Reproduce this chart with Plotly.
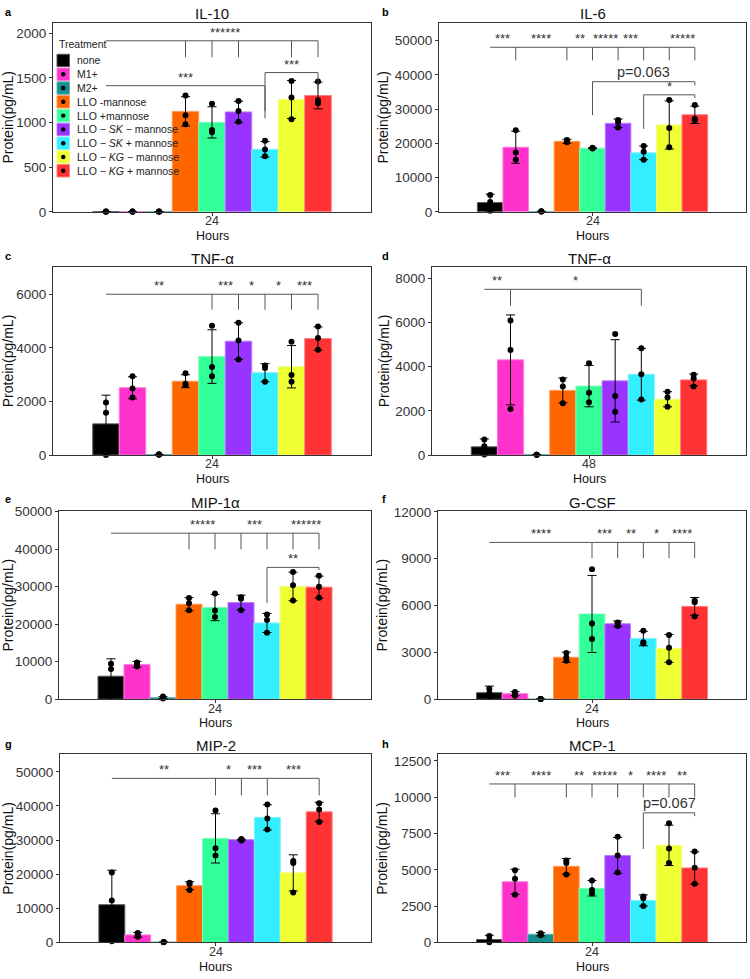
import plotly.graph_objects as go

W, H = 750, 979
FONT = "Liberation Sans, Arial, Helvetica, sans-serif"

# ---------------- data ----------------
treatments = ["none", "M1+", "M2+", "LLO -mannose", "LLO +mannose",
              "LLO − <i>SK</i> − mannose", "LLO − <i>SK</i> + mannose",
              "LLO − <i>KG</i> − mannose", "LLO − <i>KG</i> + mannose"]
colors = ["#000000", "#FF33CC", "#129090", "#FF6600", "#33FF99",
          "#9933FF", "#33EEFF", "#EEFF33", "#FF3333"]

panel_titles = ["IL-10", "IL-6", "TNF-α", "TNF-α", "MIP-1α", "G-CSF", "MIP-2", "MCP-1"]
panel_letters = ["a", "b", "c", "d", "e", "f", "g", "h"]
time_labels = ["24", "24", "24", "48", "24", "24", "24", "24"]

il10_mean = [3, 3, 3, 1125, 1002, 1119, 700, 1259, 1303]
il10_sd = [0, 0, 0, 165, 175, 119, 87, 213, 150]
il10_pts = [[2, 4, 3], [2, 4, 3], [3, 2, 4], [1303, 1083, 980], [1211, 917, 892],
            [1240, 1130, 1009], [796, 697, 623], [1465, 1281, 1038], [1460, 1251, 1215]]

il6_mean = [2700, 18870, 100, 20595, 18583, 25863, 17242, 25384, 28354]
il6_sd = [2450, 4700, 50, 600, 150, 1250, 2000, 7040, 2540]
il6_pts = [[4900, 2900, 300], [23852, 17338, 15231], [150, 80, 60], [21000, 20500, 20300],
           [18700, 18550, 18500], [26821, 26247, 24618], [19254, 17530, 15231],
           [32665, 24523, 18870], [31227, 27204, 26725]]

tnf24_mean = [1163, 2510, 20, 2755, 3674, 4249, 3073, 3294, 4347]
tnf24_sd = [1070, 410, 5, 240, 1000, 686, 337, 790, 435]
tnf24_pts = [[1960, 1580, 0], [2939, 2486, 2143], [20, 25, 15], [3049, 2657, 2600],
             [4825, 3282, 2939], [4935, 4274, 3563], [3343, 3245, 2731],
             [4224, 2988, 2731], [4800, 4371, 3931]]

tnf48_mean = [372, 4312, 10, 2929, 3123, 3361, 3658, 2528, 3405]
tnf48_sd = [357, 2037, 3, 565, 937, 1866, 1172, 342, 267]
tnf48_pts = [[699, 400, 20], [6097, 4758, 2082], [10, 10, 10], [3420, 3108, 2349],
             [4164, 2825, 2394], [5487, 2677, 1963], [4833, 3658, 2513],
             [2870, 2602, 2186], [3643, 3465, 3108]]

mip1a_mean = [6130, 9282, 438, 25308, 24432, 25745, 20316, 30036, 29861]
mip1a_sd = [4640, 790, 250, 1750, 3500, 1970, 2540, 3810, 2930]
mip1a_pts = [[9458, 8056, 876], [9800, 9300, 8750], [700, 400, 200], [26972, 25570, 23731],
             [28197, 23644, 21893], [27147, 26797, 23731], [22593, 21105, 17689],
             [33889, 30387, 26271], [32926, 29949, 27059]]

gcsf_mean = [420, 357, 10, 2690, 5464, 4834, 3888, 3257, 5948]
gcsf_sd = [420, 126, 3, 326, 2470, 178, 462, 893, 567]
gcsf_pts = [[673, 400, 190], [462, 336, 231], [10, 12, 8], [2963, 2669, 2459],
            [8322, 4855, 3867], [4918, 4700, 4880], [4392, 3657, 3573],
            [4119, 3300, 2375], [6305, 6221, 5296]]

mip2_mean = [11057, 2211, 100, 16634, 30480, 30096, 36633, 20384, 38268]
mip2_sd = [10096, 720, 30, 1150, 7210, 150, 3700, 5290, 2790]
mip2_pts = [[20480, 12307, 384], [2800, 2100, 1700], [120, 100, 80], [17500, 17115, 15384],
            [38652, 27595, 25480], [30300, 30100, 29900], [40383, 36345, 33076],
            [23845, 23268, 14615], [40767, 38941, 35287]]

mcp1_mean = [203, 4181, 565, 5243, 3729, 5989, 2893, 6690, 5130]
mcp1_sd = [294, 859, 113, 540, 530, 1240, 384, 1390, 1110]
mcp1_pts = [[452, 150, 10], [4972, 4384, 3277], [633, 542, 497], [5650, 5469, 4678],
            [4271, 3616, 3390], [7277, 5989, 4814], [3164, 3051, 2508],
            [8204, 6464, 5469], [6260, 5153, 4045]]

y_max = [2118, 55258, 7018, 8522, 50100, 12050, 55100, 12954]
y_dtick = [500, 10000, 2000, 2000, 10000, 3000, 10000, 2500]

# significance brackets: (start group, end group, bracket y, [(tick group, tick bottom)], [((g1, g2), label)])
brackets = [
    [(0, 8, 1916, [(3, 1732), (4, 1732), (5, 1732), (7, 1732), (8, 1732)], [((4, 5), "******")]),
     (0, 6, 1413, [(6, 1046)], [((0, 6), "***")]),
     (6, 8, 1560, [(6, 1127), (8, 1376)], [((6, 8), "***")])],
    [(0, 8, 48087, [(g, 44255) for g in (1, 3, 4, 5, 6, 7, 8)],
      [((0, 1), "***"), ((1, 3), "****"), ((3, 4), "**"), ((4, 5), "*****"), ((5, 6), "***"), ((7, 8), "*****")]),
     (4, 8, 38029, [(4, 28258), (8, 36879)], [((4, 8), "p=0.063")]),
     (6, 8, 34197, [(6, 24235), (8, 33239)], [((6, 8), "*")])],
    [(0, 8, 6000, [(g, 5425) for g in (4, 5, 6, 7, 8)],
      [((0, 4), "**"), ((4, 5), "***"), ((5, 6), "*"), ((6, 7), "*"), ((7, 8), "***")])],
    [(0, 6, 7509, [(1, 6766), (6, 6766)], [((0, 1), "**"), ((1, 6), "*")])],
    [(0, 8, 44223, [(g, 39932) for g in (3, 4, 5, 6, 7, 8)],
      [((3, 4), "*****"), ((5, 6), "***"), ((7, 8), "******")]),
     (6, 8, 35115, [(6, 25658), (8, 34415)], [((6, 8), "**")])],
    [(0, 8, 10046, [(g, 9037) for g in (4, 5, 6, 7, 8)],
      [((0, 4), "****"), ((4, 5), "***"), ((5, 6), "**"), ((6, 7), "*"), ((7, 8), "****")])],
    [(0, 8, 48075, [(g, 43075) for g in (4, 5, 6, 8)],
      [((0, 4), "**"), ((4, 5), "*"), ((5, 6), "***"), ((6, 8), "***")])],
    [(0, 8, 10916, [(g, 9989) for g in (1, 3, 4, 5, 6, 7, 8)],
      [((0, 1), "***"), ((1, 3), "****"), ((3, 4), "**"), ((4, 5), "*****"), ((5, 6), "*"),
       ((6, 7), "****"), ((7, 8), "**")]),
     (6, 8, 8927, [(6, 6441), (8, 8700)], [((6, 8), "p=0.067")])],
]

panel_means = [il10_mean, il6_mean, tnf24_mean, tnf48_mean, mip1a_mean, gcsf_mean, mip2_mean, mcp1_mean]
panel_sds = [il10_sd, il6_sd, tnf24_sd, tnf48_sd, mip1a_sd, gcsf_sd, mip2_sd, mcp1_sd]
panel_pts = [il10_pts, il6_pts, tnf24_pts, tnf48_pts, mip1a_pts, gcsf_pts, mip2_pts, mcp1_pts]

# ---------------- layout geometry (pixels: left, right, top, bottom) ----------------
rects = [(53, 371, 16, 208), (439, 746, 16, 208),
         (53, 371, 264, 455), (432, 746, 264, 455),
         (59, 371, 512, 703), (438, 746, 512, 703),
         (60, 371, 759, 950), (438, 746, 759, 950)]
letter_pos = [(3, 5), (380, 5), (3, 253), (380, 253), (3, 500), (380, 500), (3, 748), (380, 748)]


def px(x):
    return x / W


def py(y):
    return 1 - y / H


def tint(hexc, f):
    r, g, b = int(hexc[1:3], 16), int(hexc[3:5], 16), int(hexc[5:7], 16)
    r, g, b = [int(c + (255 - c) * f) for c in (r, g, b)]
    return f"rgb({r},{g},{b})"


def xpos(i):
    return 1 + (i - 4) * 0.1


fig = go.Figure()
shapes = []
annotations = []
layout = {}

for k in range(8):
    sfx = "" if k == 0 else str(k + 1)
    xr, yr = "x" + sfx, "y" + sfx
    means, sds, pts = panel_means[k], panel_sds[k], panel_pts[k]
    for i in range(9):
        fig.add_trace(go.Bar(
            x=[xpos(i)], y=[means[i]], width=0.1,
            marker=dict(color=colors[i], line=dict(color=tint(colors[i], 0.35), width=1)),
            error_y=dict(type="data", array=[sds[i]], color="black", thickness=1, width=4.5),
            xaxis=xr, yaxis=yr, showlegend=False, hoverinfo="skip"))
    for i in range(9):
        fig.add_trace(go.Scatter(
            x=[xpos(i)] * len(pts[i]), y=pts[i], mode="markers",
            marker=dict(color="black", size=6), cliponaxis=False,
            xaxis=xr, yaxis=yr, showlegend=False, hoverinfo="skip"))

    l, r, t, b = rects[k]
    common = dict(showline=True, mirror=True, linecolor="#333333", linewidth=1,
                  showgrid=False, zeroline=False, ticks="outside", ticklen=3,
                  tickcolor="#333333", tickfont=dict(family=FONT, size=13.5, color="#333333"))
    layout["xaxis" + sfx] = dict(domain=[px(l), px(r)], anchor=yr, range=[0.4, 1.6],
                                 tickvals=[1], showticklabels=False, **common)
    layout["yaxis" + sfx] = dict(domain=[py(b), py(t)], anchor=xr, range=[0, y_max[k]],
                                 dtick=y_dtick[k], tick0=0, tickformat="d",
                                 title=dict(text="Protein(pg/mL)", font=dict(family=FONT, size=14, color="#111"), standoff=2),
                                 **common)

    # x tick label (time point) and x axis title
    annotations.append(dict(text=time_labels[k], x=1, y=py(b + 9.5), xref=xr, yref="paper",
                            showarrow=False, xanchor="center", yanchor="middle", borderpad=0,
                            font=dict(family=FONT, size=12.5, color="#333333")))
    annotations.append(dict(text="Hours", x=px((l + r) / 2), y=py(b + 24.5), xref="paper", yref="paper",
                            showarrow=False, xanchor="center", yanchor="middle", borderpad=0,
                            font=dict(family=FONT, size=12.5, color="#111")))
    # panel title and letter
    annotations.append(dict(text=panel_titles[k], x=px((l + r) / 2), y=py(t - 9), xref="paper", yref="paper",
                            showarrow=False, xanchor="center", yanchor="middle",
                            font=dict(family=FONT, size=15, color="#111")))
    lx, ly = letter_pos[k]
    annotations.append(dict(text="<b>" + panel_letters[k] + "</b>", x=px(lx), y=py(ly), xref="paper", yref="paper",
                            showarrow=False, xanchor="left", yanchor="middle",
                            font=dict(family=FONT, size=11, color="#000")))

    # brackets
    for (g0, g1, yb, ticks, labels) in brackets[k]:
        shapes.append(dict(type="line", xref=xr, yref=yr, x0=xpos(g0), x1=xpos(g1), y0=yb, y1=yb,
                           line=dict(color="#555555", width=1)))
        for (g, ybot) in ticks:
            shapes.append(dict(type="line", xref=xr, yref=yr, x0=xpos(g), x1=xpos(g), y0=yb, y1=ybot,
                               line=dict(color="#555555", width=1)))
        for ((a1, a2), txt) in labels:
            is_p = txt.startswith("p")
            annotations.append(dict(text=txt, x=(xpos(a1) + xpos(a2)) / 2, y=yb, xref=xr, yref=yr,
                                    showarrow=False, xanchor="center", yanchor="bottom",
                                    yshift=0 if is_p else -1,
                                    font=dict(family=FONT, size=14.5 if is_p else 13, color="#333333")))

# ---------------- manual legend (panel a) ----------------
annotations.append(dict(text="Treatment", x=px(57), y=py(37.7), xref="paper", yref="paper",
                        showarrow=False, xanchor="left", yanchor="middle",
                        font=dict(family=FONT, size=10.5, color="#222")))
for i in range(9):
    cy = 54.3 + i * 14.0
    shapes.append(dict(type="rect", xref="paper", yref="paper", x0=px(57), x1=px(69.5),
                       y0=py(cy + 6.3), y1=py(cy - 6.3), fillcolor=colors[i],
                       line=dict(color=tint(colors[i], 0.35), width=1)))
    shapes.append(dict(type="circle", xref="paper", yref="paper", x0=px(61), x1=px(65.5),
                       y0=py(cy + 2.25), y1=py(cy - 2.25), fillcolor="black", line=dict(width=0)))
    annotations.append(dict(text=treatments[i], x=px(75), y=py(cy), xref="paper", yref="paper",
                            showarrow=False, xanchor="left", yanchor="middle",
                            font=dict(family=FONT, size=10.5, color="#222")))

fig.update_layout(width=W, height=H, margin=dict(l=0, r=0, t=0, b=0), autosize=False,
                  paper_bgcolor="white", plot_bgcolor="white", barmode="overlay",
                  showlegend=False, shapes=shapes, annotations=annotations,
                  font=dict(family=FONT), **layout)

fig.write_html("out.html")
